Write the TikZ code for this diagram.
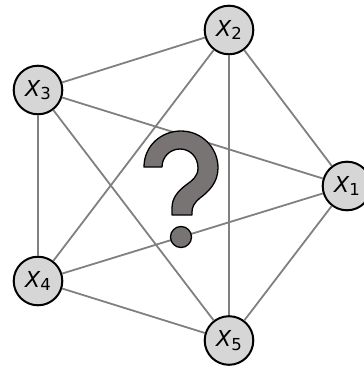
\documentclass[tikz,border=0pt]{standalone}
\usepackage{fontspec}
\setmainfont{DejaVu Sans}
\definecolor{nodegray}{RGB}{214,214,214}
\definecolor{edgegray}{RGB}{128,128,128}
\definecolor{markgray}{RGB}{120,116,116}
\newcommand{\varlabel}[1]{\itshape X\raisebox{-3.5pt}{\fontsize{16.5}{17}\selectfont\upshape #1}}
\begin{document}
\begin{tikzpicture}[x=1pt,y=-1pt,
    var/.style={circle,draw=black,line width=2pt,fill=nodegray,minimum size=48.6pt,inner sep=0pt,font=\fontsize{22}{24}\selectfont},
    link/.style={draw=edgegray,line width=1.8pt}]
    \useasboundingbox (0,0) rectangle (364,367);

    % variables
    \node[var] (x1) at (347,186) {\varlabel{1}};
    \node[var] (x2) at (229,30) {\varlabel{2}};
    \node[var] (x3) at (38,90) {\varlabel{3}};
    \node[var] (x4) at (38,281) {\varlabel{4}};
    \node[var] (x5) at (229,340.5) {\varlabel{5}};

    % edges
    \draw[link] (x1) -- (x2);
    \draw[link] (x1) -- (x3);
    \draw[link] (x1) -- (x4);
    \draw[link] (x1) -- (x5);
    \draw[link] (x2) -- (x3);
    \draw[link] (x2) -- (x4);
    \draw[link] (x2) -- (x5);
    \draw[link] (x3) -- (x4);
    \draw[link] (x3) -- (x5);
    \draw[link] (x4) -- (x5);

    % question mark
    \draw[fill=markgray,line width=1.3pt,line join=round] (144,167)
        .. controls (144,146) and (161,131) .. (181,131)
        .. controls (201,131) and (218,147) .. (218,168)
        .. controls (218,183) and (208,192) .. (200,198)
        .. controls (194,203) and (192,207) .. (192,212)
        -- (192,215) -- (172,215) -- (172,208)
        .. controls (172,198) and (178,191) .. (186,185)
        .. controls (193,180) and (198,176) .. (198,168)
        .. controls (198,157) and (190,149) .. (180,149)
        .. controls (170,149) and (162,157) .. (162,167)
        -- cycle;
    \draw[fill=markgray,line width=1.3pt] (181,237) circle (10.5pt);
\end{tikzpicture}
\end{document}
